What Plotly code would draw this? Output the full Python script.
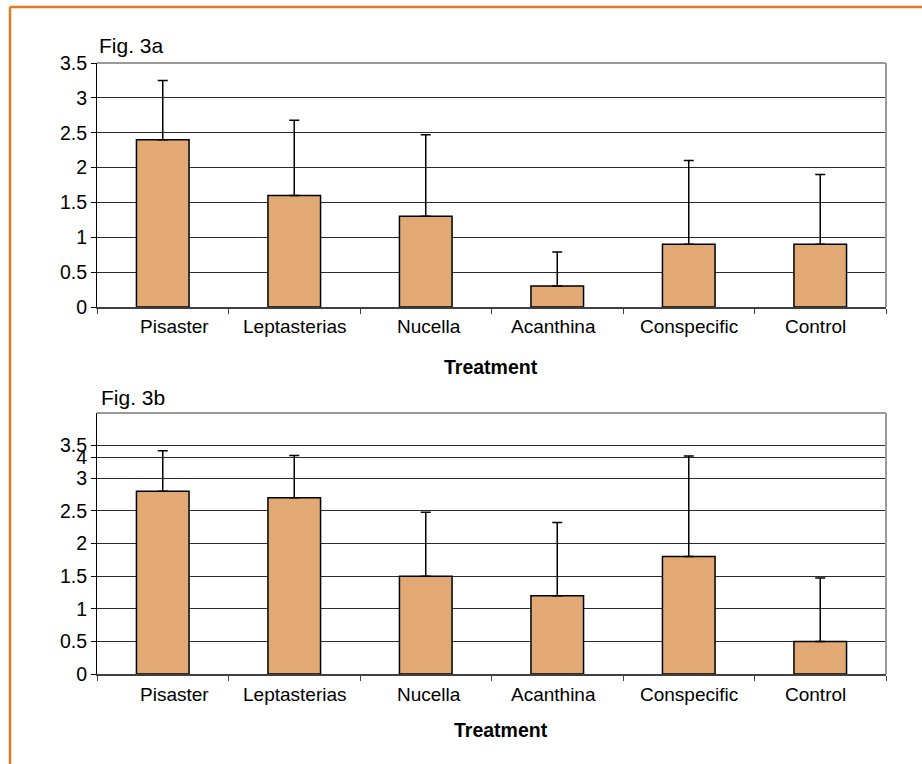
import plotly.graph_objects as go

categories = ["Pisaster", "Leptasterias", "Nucella", "Acanthina", "Conspecific", "Control"]

# Fig. 3a
means_a = [2.4, 1.6, 1.3, 0.3, 0.9, 0.9]
err_a = [0.85, 1.08, 1.17, 0.49, 1.20, 1.00]

# Fig. 3b
means_b = [2.8, 2.7, 1.5, 1.2, 1.8, 0.5]
err_b = [0.62, 0.65, 0.98, 1.12, 1.54, 0.97]

ytick_vals_a = [0, 0.5, 1, 1.5, 2, 2.5, 3, 3.5]
ytick_text_a = ["0", "0.5", "1", "1.5", "2", "2.5", "3", "3.5"]
ytick_vals_b = [0, 0.5, 1, 1.5, 2, 2.5, 3, 3.32, 3.5]
ytick_text_b = ["0", "0.5", "1", "1.5", "2", "2.5", "3", "4", "3.5"]

# horizontal nudges (px) of the category labels, as in the original
label_shift = [12, 1, 3, -4, 0, -5]

W, H = 922, 764
BAR = "#E2A974"
FONT = "Liberation Sans, Arial, sans-serif"
TICK_SIZE = 19.5

def px_x(v):
    return v / W

def px_y(v):
    return 1 - v / H

fig = go.Figure()

fig.add_trace(go.Bar(
    x=categories, y=means_a, xaxis="x", yaxis="y",
    marker=dict(color=BAR, line=dict(color="black", width=1.5)),
    error_y=dict(type="data", symmetric=False, array=err_a,
                 arrayminus=[0] * len(err_a), color="black", thickness=1.5, width=5),
    showlegend=False, hoverinfo="skip",
))
fig.add_trace(go.Bar(
    x=categories, y=means_b, xaxis="x2", yaxis="y2",
    marker=dict(color=BAR, line=dict(color="black", width=1.5)),
    error_y=dict(type="data", symmetric=False, array=err_b,
                 arrayminus=[0] * len(err_b), color="black", thickness=1.5, width=5),
    showlegend=False, hoverinfo="skip",
))

xdom = [px_x(97), px_x(886)]
common_x = dict(
    type="category", showline=True, linecolor="#404040", linewidth=1.5,
    ticks="outside", tickson="boundaries", ticklen=5, tickcolor="#404040",
    showgrid=False, showticklabels=False, fixedrange=True,
)
common_y = dict(
    showline=True, linecolor="black", linewidth=1,
    ticks="outside", ticklen=5, tickcolor="black",
    showgrid=True, gridcolor="#2a2a2a", gridwidth=1, zeroline=False,
    tickfont=dict(family=FONT, size=TICK_SIZE, color="black"),
    fixedrange=True,
)

fig.update_layout(
    width=W, height=H,
    margin=dict(l=0, r=0, t=0, b=0, pad=0, autoexpand=False),
    paper_bgcolor="white", plot_bgcolor="white",
    bargap=0.6,
    xaxis=dict(domain=xdom, anchor="y", **common_x),
    yaxis=dict(domain=[px_y(307), px_y(63)], anchor="x", range=[0, 3.5],
               tickvals=ytick_vals_a, ticktext=ytick_text_a, **common_y),
    xaxis2=dict(domain=xdom, anchor="y2", **common_x),
    yaxis2=dict(domain=[px_y(674), px_y(413)], anchor="x2", range=[0, 4],
                tickvals=ytick_vals_b, ticktext=ytick_text_b, **common_y),
)

shapes = []
# grey top/right plot borders
for xr, yr in (("x domain", "y domain"), ("x2 domain", "y2 domain")):
    shapes.append(dict(type="line", xref=xr, yref=yr, x0=0, x1=1, y0=1, y1=1,
                       line=dict(color="#9a9a9a", width=2)))
    shapes.append(dict(type="line", xref=xr, yref=yr, x0=1, x1=1, y0=0, y1=1,
                       line=dict(color="#9a9a9a", width=2)))
# orange frame (left and top)
shapes.append(dict(type="line", xref="paper", yref="paper",
                   x0=px_x(10), x1=px_x(10), y0=0, y1=px_y(7),
                   line=dict(color="#E07C24", width=2.5)))
shapes.append(dict(type="line", xref="paper", yref="paper",
                   x0=px_x(10), x1=1, y0=px_y(7), y1=px_y(7),
                   line=dict(color="#E07C24", width=2.5)))
fig.update_layout(shapes=shapes)

annotations = [
    dict(text="Fig. 3a", x=px_x(97), y=px_y(46), xref="paper", yref="paper",
         xanchor="left", yanchor="middle", showarrow=False,
         font=dict(family=FONT, size=21, color="black")),
    dict(text="Fig. 3b", x=px_x(99), y=px_y(397), xref="paper", yref="paper",
         xanchor="left", yanchor="middle", showarrow=False,
         font=dict(family=FONT, size=21, color="black")),
    dict(text="<b>Treatment</b>", x=px_x(491), y=px_y(367), xref="paper", yref="paper",
         xanchor="center", yanchor="middle", showarrow=False,
         font=dict(family=FONT, size=19.5, color="black")),
    dict(text="<b>Treatment</b>", x=px_x(501), y=px_y(730), xref="paper", yref="paper",
         xanchor="center", yanchor="middle", showarrow=False,
         font=dict(family=FONT, size=19.5, color="black")),
]
# category labels under each panel
for xref, ypix in (("x", 326), ("x2", 694.5)):
    for cat, dx in zip(categories, label_shift):
        annotations.append(dict(
            text=cat, x=cat, xref=xref, y=px_y(ypix), yref="paper",
            xshift=dx, xanchor="center", yanchor="middle", showarrow=False,
            font=dict(family=FONT, size=19, color="black")))
fig.update_layout(annotations=annotations)

fig.write_html("out.html", config={"displayModeBar": False, "staticPlot": True},
               post_script="document.body.style.margin='0';")
